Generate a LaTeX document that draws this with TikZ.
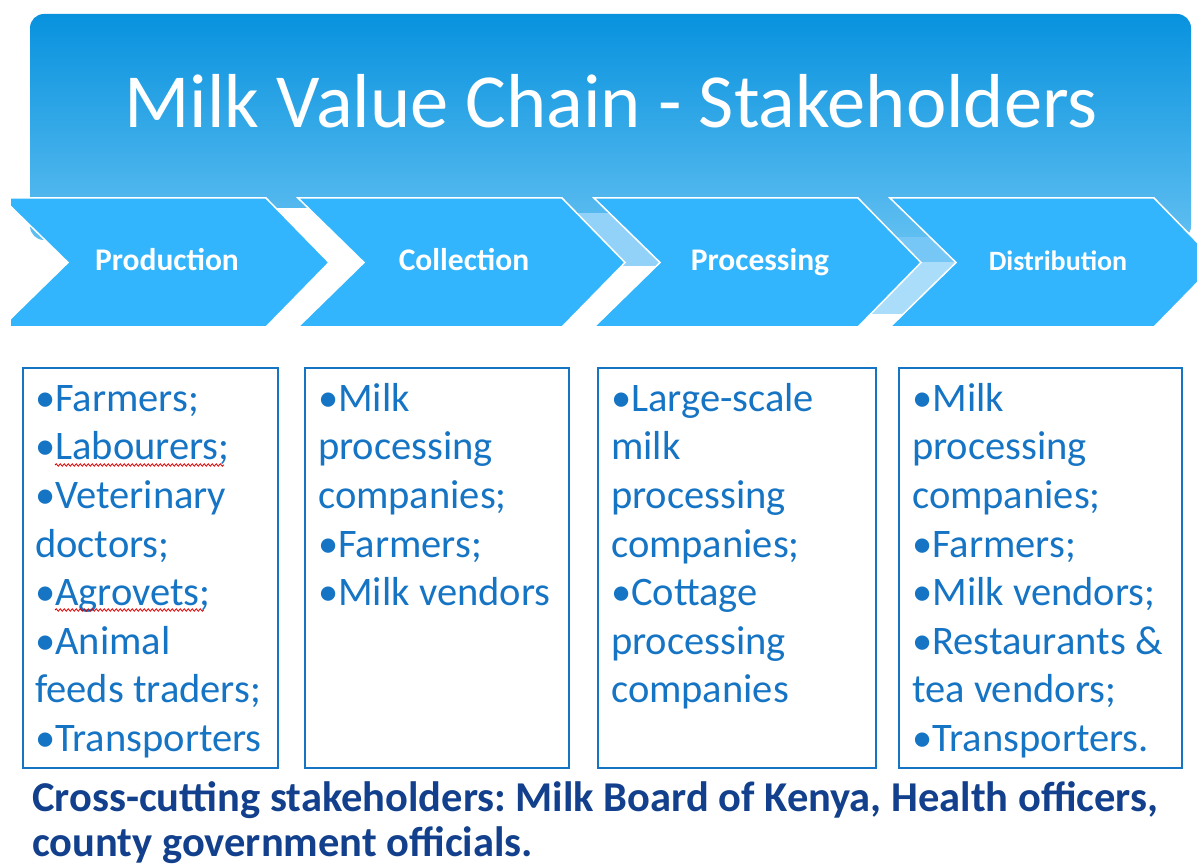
\documentclass[tikz,border=0pt]{standalone}
\usepackage{fontspec}
\setmainfont{Carlito}
\usetikzlibrary{decorations.pathmorphing}
\definecolor{hdtop}{RGB}{8,146,222}
\definecolor{hdbot}{RGB}{96,191,241}
\definecolor{chev}{RGB}{50,181,252}
\definecolor{gapA}{RGB}{146,210,248}
\definecolor{gapB}{RGB}{118,199,245}
\definecolor{gapC}{RGB}{170,221,250}
\definecolor{boxblue}{RGB}{22,116,196}
\definecolor{navy}{RGB}{18,64,140}
\tikzset{
  chevshape/.style={fill=chev, draw=white, line width=1.5pt, line join=miter},
  chevlabel/.style={text=white, font=\bfseries\fontsize{31.5}{36}\selectfont, anchor=base, inner sep=0pt},
  stakebox/.style={draw=boxblue, line width=2pt, anchor=north west, minimum height=400pt, inner sep=0pt},
  staketext/.style={text=boxblue, font=\fontsize{40.5}{48.6}\selectfont, align=left, anchor=north west, inner sep=0pt},
  spell/.style={draw=red!85!black, line width=0.8pt, decorate, decoration={snake, amplitude=1.2pt, segment length=4pt}},
  crosstext/.style={text=navy, font=\bfseries\fontsize{42.5}{45.5}\selectfont, align=left, anchor=north west, inner sep=0pt}
}
\newcommand\gapband[1]{(#1+264,198) -- (#1+296,198) -- (#1+362,262.5) -- (#1+296,327) -- (#1+264,327) -- (#1+327,262.5) -- cycle}
\newcommand\chevpath[1]{(#1,198) -- (#1+264,198) -- (#1+327,262.5) -- (#1+264,327) -- (#1,327) -- (#1+66,262.5) -- cycle}
\begin{document}
\frenchspacing
\begin{tikzpicture}[x=1pt,y=-1pt]
\useasboundingbox (0,0) rectangle (1197,866);
% header
\shade[top color=hdtop, bottom color=hdbot, rounded corners=14pt] (30,14) rectangle (1191,240);
\node[text=white, font=\fontsize{76.5}{90}\selectfont, anchor=base, inner sep=0pt] (title) at (611,128) {Milk Value Chain - Stakeholders};
% gaps between chevrons
\begin{scope}
  \clip (0,209) rectangle (1197,330);
  \fill[white] \gapband{2};
\end{scope}
\begin{scope}
  \clip (0,214) rectangle (1197,267);
  \fill[gapA] \gapband{298};
\end{scope}
\begin{scope}
  \clip (0,267) rectangle (1197,330);
  \fill[white] \gapband{298};
\end{scope}
\begin{scope}
  \clip (0,238) rectangle (1197,262.5);
  \fill[gapB] \gapband{594};
\end{scope}
\begin{scope}
  \clip (0,262.5) rectangle (1197,315);
  \fill[gapC] \gapband{594};
\end{scope}
\begin{scope}
  \clip (0,315) rectangle (1197,330);
  \fill[white] \gapband{594};
\end{scope}
% chevrons
\begin{scope}
  \clip (11,0) rectangle (1197,866);
  \draw[chevshape] \chevpath{2};
  \draw[chevshape] \chevpath{298};
  \draw[chevshape] \chevpath{594};
  \draw[chevshape] \chevpath{890};
\end{scope}
\node[chevlabel] (lab1) at (167,271) {Production};
\node[chevlabel] (lab2) at (464,271) {Collection};
\node[chevlabel] (lab3) at (760,271) {Processing};
\node[chevlabel, font=\bfseries\fontsize{28}{32}\selectfont] (lab4) at (1058,271) {Distribution};
% boxes
\node[stakebox, minimum width=255pt] (box1) at (22,367) {};
\node[stakebox, minimum width=264pt] (box2) at (304,367) {};
\node[stakebox, minimum width=278pt] (box3) at (597,367) {};
\node[stakebox, minimum width=283pt] (box4) at (898,367) {};
\node[staketext] (txt1) at (35,381) {\rule{0pt}{30pt}•Farmers;\\•Labourers;\\•Veterinary\\doctors;\\•Agrovets;\\•Animal\\feeds traders;\\•Transporters};
\node[staketext] (txt2) at (318,381) {\rule{0pt}{30pt}•Milk\\processing\\companies;\\•Farmers;\\•Milk vendors};
\node[staketext] (txt3) at (611,381) {\rule{0pt}{30pt}•Large-scale\\milk\\processing\\companies;\\•Cottage\\processing\\companies};
\node[staketext] (txt4) at (912,381) {\rule{0pt}{30pt}•Milk\\processing\\companies;\\•Farmers;\\•Milk vendors;\\•Restaurants \&\\tea vendors;\\•Transporters.};
% spell-check underlines
\coordinate (sp1a) at (55,465);
\coordinate (sp1b) at (224,465);
\coordinate (sp2a) at (55,610);
\coordinate (sp2b) at (204,610);
\draw[spell] (sp1a) -- (sp1b);
\draw[spell] (sp2a) -- (sp2b);
% cross-cutting text
\node[crosstext] (cross) at (32,779) {\rule{0pt}{32pt}Cross-cutting stakeholders: Milk Board of Kenya, Health officers,\\county government officials.};
\end{tikzpicture}
\end{document}
